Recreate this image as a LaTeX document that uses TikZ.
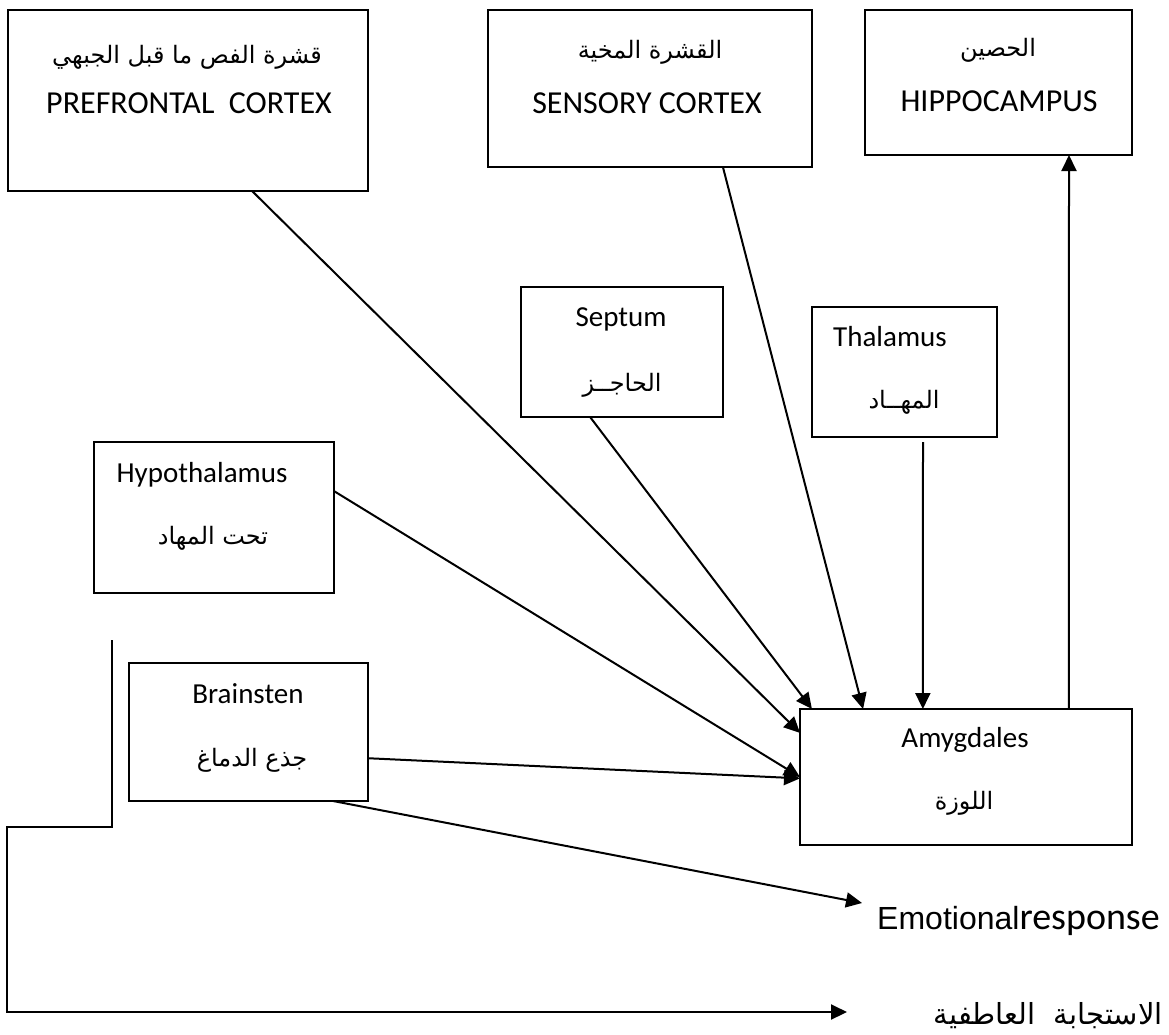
\documentclass[tikz,border=0pt]{standalone}
\usepackage{fontspec}
\setmainfont{Carlito}
\newfontfamily\arabicfont[Script=Arabic]{DejaVu Sans}
\newfontfamily\arialfont{Liberation Sans}
\TeXXeTstate=1
\usetikzlibrary{arrows.meta,calc}
% right-to-left Arabic text
\newcommand{\artext}[1]{{\arabicfont\beginR #1\endR}}

\begin{document}
\begin{tikzpicture}[x=1pt,y=-1pt,
  box/.style={draw, line width=2pt, inner sep=0pt, outer sep=0pt, anchor=north west},
  toptxt/.style={inner sep=0pt, anchor=base, font=\fontsize{32}{38}\selectfont},
  labtxt/.style={inner sep=0pt, anchor=base, font=\fontsize{29}{35}\selectfont},
  artxt/.style={inner sep=0pt, font=\fontsize{24}{30}\selectfont},
  conn/.style={line width=2pt, -{Triangle[length=16pt,width=15pt]}}
]
\useasboundingbox (0,0) rectangle (1169,1034);

% boxes
\node[box, minimum width=360pt, minimum height=181pt] (pfc)   at (8,10)    {};
\node[box, minimum width=324pt, minimum height=157pt] (sens)  at (488,10)  {};
\node[box, minimum width=267pt, minimum height=145pt] (hip)   at (865,10)  {};
\node[box, minimum width=202pt, minimum height=130pt] (sep)   at (521,287) {};
\node[box, minimum width=185pt, minimum height=130pt] (thal)  at (812,307) {};
\node[box, minimum width=240pt, minimum height=151pt] (hyp)   at (94,442)  {};
\node[box, minimum width=239pt, minimum height=138pt] (brain) at (129,663) {};
\node[box, minimum width=332pt, minimum height=136pt] (amy)   at (800,709) {};

% box labels
\node[artxt]  (pfcAr)  at (187,57)  {\artext{قشرة الفص ما قبل الجبهي}};
\node[toptxt] (pfcEn)  at (189,113) {PREFRONTAL\ \ CORTEX};
\node[artxt]  (sensAr) at (650,52)  {\artext{القشرة المخية}};
\node[toptxt] (sensEn) at (647,113) {SENSORY CORTEX};
\node[artxt]  (hipAr)  at (998,50)  {\artext{الحصين}};
\node[toptxt] (hipEn)  at (999,111) {HIPPOCAMPUS};
\node[labtxt] (sepEn)  at (621,326) {Septum};
\node[artxt]  (sepAr)  at (622,385) {\artext{الحاجــز}};
\node[labtxt] (thalEn) at (890,346) {Thalamus};
\node[artxt]  (thalAr) at (904,402) {\artext{المهــاد}};
\node[labtxt] (hypEn)  at (202,482) {Hypothalamus};
\node[artxt]  (hypAr)  at (213,538) {\artext{تحت المهاد}};
\node[labtxt] (brainEn) at (248,703) {Brainsten};
\node[artxt]  (brainAr) at (252,760) {\artext{جذع الدماغ}};
\node[labtxt] (amyEn)  at (965,747) {Amygdales};
\node[artxt]  (amyAr)  at (964,803) {\artext{اللوزة}};

% outputs
\node[inner sep=0pt, anchor=base west] (emo) at (877,929)
  {{\arialfont\fontsize{32}{38}\selectfont Emotional}{\fontsize{38}{44}\selectfont response}};
\node[artxt, anchor=east, font=\fontsize{29}{34}\selectfont] (respAr) at (1163,1016) {\artext{الاستجابة\ \ العاطفية}};
\coordinate (emoTip)  at (862,903);
\coordinate (brkTop)  at (112,640);
\coordinate (brkStep) at (7,827);
\coordinate (respTip) at (847,1012);

% connectors into the amygdala
\draw[conn] ($(pfc.south west)!0.678!(pfc.south east)$) -- ($(amy.north west)!0.176!(amy.south west)$);
\draw[conn] ($(sep.south west)!0.342!(sep.south east)$) -- ($(amy.north west)!0.036!(amy.north east)$);
\draw[conn] ($(sens.south west)!0.725!(sens.south east)$) -- ($(amy.north west)!0.19!(amy.north east)$);
\draw[conn, shorten <=5pt] ($(thal.south west)!0.6!(thal.south east)$) -- ($(amy.north west)!0.37!(amy.north east)$);
\draw[conn] ($(hyp.north east)!0.325!(hyp.south east)$) -- ($(amy.north west)!0.5!(amy.south west)$);
\draw[conn] ($(brain.north east)!0.69!(brain.south east)$) -- ($(amy.north west)!0.51!(amy.south west)$);

% amygdala to hippocampus
\draw[conn] ($(amy.north west)!0.81!(amy.north east)$) -- ($(hip.south west)!0.764!(hip.south east)$);

% responses
\draw[conn] ($(brain.south west)!0.854!(brain.south east)$) -- (emoTip);
\draw[conn, line join=miter] (brkTop) |- (brkStep) |- (respTip);
\end{tikzpicture}
\end{document}
